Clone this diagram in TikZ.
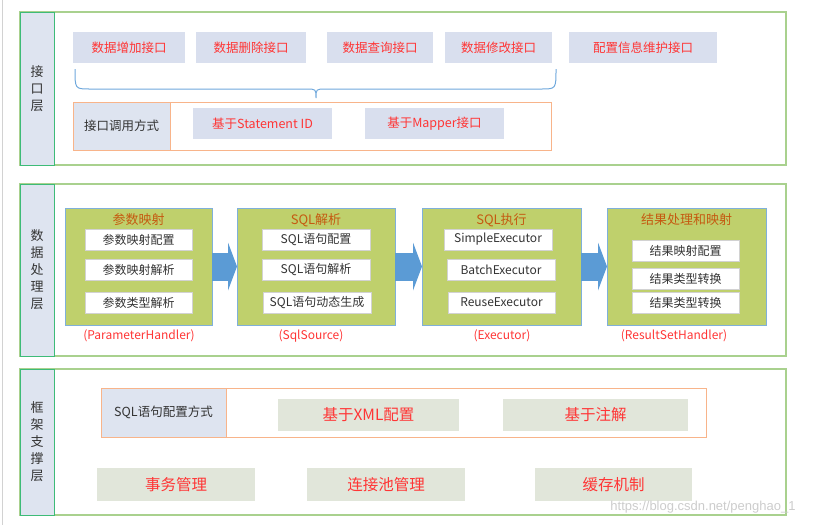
\documentclass[tikz,border=0pt]{standalone}
\usepackage{fontspec}
\setmainfont{Noto Sans CJK SC}
\newfontfamily\wmfont{Liberation Sans}
\usetikzlibrary{arrows.meta}
\definecolor{laygreen}{HTML}{A9D18E}
\definecolor{colgreen}{HTML}{3DBB78}
\definecolor{colfill}{HTML}{DEE4F0}
\definecolor{btnfill}{HTML}{D9DFEE}
\definecolor{txtred}{HTML}{FF3535}
\definecolor{boxorange}{HTML}{F8B48A}
\definecolor{braceblue}{HTML}{6FA8DC}
\definecolor{stagefill}{HTML}{BFD06C}
\definecolor{stageline}{HTML}{7FB0DA}
\definecolor{stagehead}{HTML}{C55A11}
\definecolor{arrblue}{HTML}{5B9BD5}
\definecolor{basefill}{HTML}{E1E6DA}
\definecolor{darktxt}{HTML}{333333}

\begin{document}
\begin{tikzpicture}[x=1pt, y=-1pt,
        every node/.style={inner sep=0pt, outer sep=0pt},
        box/.style 2 args={minimum width=#1, minimum height=#2},
        layer/.style={draw=laygreen, line width=1.2pt},
        layercol/.style={draw=colgreen, fill=colfill, line width=1pt, align=center, text=darktxt, font=\fontsize{13}{17}\selectfont},
        btn/.style={fill=btnfill, text=txtred, font=\fontsize{12.5}{15}\selectfont},
        callbox/.style={draw=boxorange, line width=1pt},
        calltag/.style={draw=boxorange, fill=colfill, line width=1pt, text=darktxt, font=\fontsize{12.5}{15}\selectfont},
        stage/.style={draw=stageline, fill=stagefill, line width=1pt},
        stagetitle/.style={text=stagehead, font=\fontsize{13}{15}\selectfont},
        item/.style={draw=gray!35, fill=white, text=darktxt, font=\fontsize{12}{14}\selectfont},
        handler/.style={text=txtred, font=\fontsize{12}{14}\selectfont},
        flow/.style={draw=arrblue, line width=28pt, -{Triangle[length=9pt, width=48pt, line width=0pt]}},
        base/.style={fill=basefill, text=txtred, font=\fontsize{15.5}{18}\selectfont}]
                \useasboundingbox (0,0) rectangle (824,525);
                \draw[gray!35, line width=1pt] (2,0) -- (2,525);

                \node[layer, box={766}{153}] (top) at (403,88.5) {};
                \node[layercol, box={34}{153}] (topcol) at (37,88.5) {接\\口\\层};
                \node[btn, box={112}{31}] (add) at (129,47.5) {数据增加接口};
                \node[btn, box={110}{31}] (del) at (251,47.5) {数据删除接口};
                \node[btn, box={106}{31}] (qry) at (380,47.5) {数据查询接口};
                \node[btn, box={107}{31}] (mod) at (498.5,47.5) {数据修改接口};
                \node[btn, box={148}{31}] (cfg) at (643,47.5) {配置信息维护接口};
                \draw[braceblue, line width=1pt] (75,69) .. controls (75,89) .. (90,89) -- (306,89)
                        .. controls (316,89) .. (316,98) .. controls (316,89) .. (326,89) -- (541,89)
                        .. controls (556,89) .. (556,69);
                \node[callbox, box={478}{48}] (call) at (312,126) {};
                \node[calltag, box={97}{48}] (calltag) at (121.5,126) {接口调用方式};
                \node[btn, box={139}{31}] (stid) at (262.5,123.5) {基于Statement ID};
                \node[btn, box={139}{31}] (mapper) at (434.5,123.5) {基于Mapper接口};

                \node[layer, box={766}{172}] (mid) at (403,270) {};
                \node[layercol, box={34}{172}] (midcol) at (37,270) {数\\据\\处\\理\\层};
                \node[stage, box={147}{117}] (s1) at (138.5,266.5) {};
                \node[stage, box={158}{117}] (s2) at (316,266.5) {};
                \node[stage, box={159}{117}] (s3) at (501.5,266.5) {};
                \node[stage, box={159}{117}] (s4) at (686.5,266.5) {};
                \draw[flow] (s1) -- (s2);
                \draw[flow] (s2) -- (s3);
                \draw[flow] (s3) -- (s4);
                \node[stagetitle] (t1) at (138.5,220) {参数映射};
                \node[stagetitle] (t2) at (316,220) {SQL解析};
                \node[stagetitle] (t3) at (501.5,220) {SQL执行};
                \node[stagetitle] (t4) at (686.5,220) {结果处理和映射};
                \node[item, box={107}{21}] (s1a) at (138.5,239.5) {参数映射配置};
                \node[item, box={107}{21}] (s1b) at (138.5,270) {参数映射解析};
                \node[item, box={107}{21}] (s1c) at (138.5,302.5) {参数类型解析};
                \node[item, box={108}{21}] (s2a) at (316,239.5) {SQL语句配置};
                \node[item, box={108}{21}] (s2b) at (316,270) {SQL语句解析};
                \node[item, box={108}{21}] (s2c) at (317,302.5) {SQL语句动态生成};
                \node[item, box={108}{21}] (s3a) at (498,239.5) {SimpleExecutor};
                \node[item, box={108}{21}] (s3b) at (501,270) {BatchExecutor};
                \node[item, box={107}{21}] (s3c) at (501.5,302.5) {ReuseExecutor};
                \node[item, box={107}{21}] (s4a) at (685.5,250.5) {结果映射配置};
                \node[item, box={107}{21}] (s4b) at (685.5,279) {结果类型转换};
                \node[item, box={107}{21}] (s4c) at (685.5,302.5) {结果类型转换};
                \node[handler] (h1) at (139,336) {(ParameterHandler)};
                \node[handler] (h2) at (311,336) {(SqlSource)};
                \node[handler] (h3) at (502,336) {(Executor)};
                \node[handler] (h4) at (674,336) {(ResultSetHandler)};

                \node[layer, box={766}{146}] (low) at (403,442) {};
                \node[layercol, box={34}{146}] (lowcol) at (37,442) {框\\架\\支\\撑\\层};
                \node[callbox, box={605}{49}] (conf) at (403.5,412.5) {};
                \node[calltag, box={125}{49}] (conftag) at (163.5,412.5) {SQL语句配置方式};
                \node[base, box={181}{32}] (xml) at (368.5,415) {基于XML配置};
                \node[base, box={185}{32}] (anno) at (595.5,415) {基于注解};
                \node[base, box={158}{33}] (tx) at (176,484.5) {事务管理};
                \node[base, box={158}{33}] (pool) at (386,484.5) {连接池管理};
                \node[base, box={157}{33}] (cache) at (613.5,484.5) {缓存机制};
                \node[text=gray!40, font=\wmfont\fontsize{13}{15}\selectfont] (wm) at (703,507) {https://blog.csdn.net/penghao\_1};
                \end{tikzpicture}
\end{document}
